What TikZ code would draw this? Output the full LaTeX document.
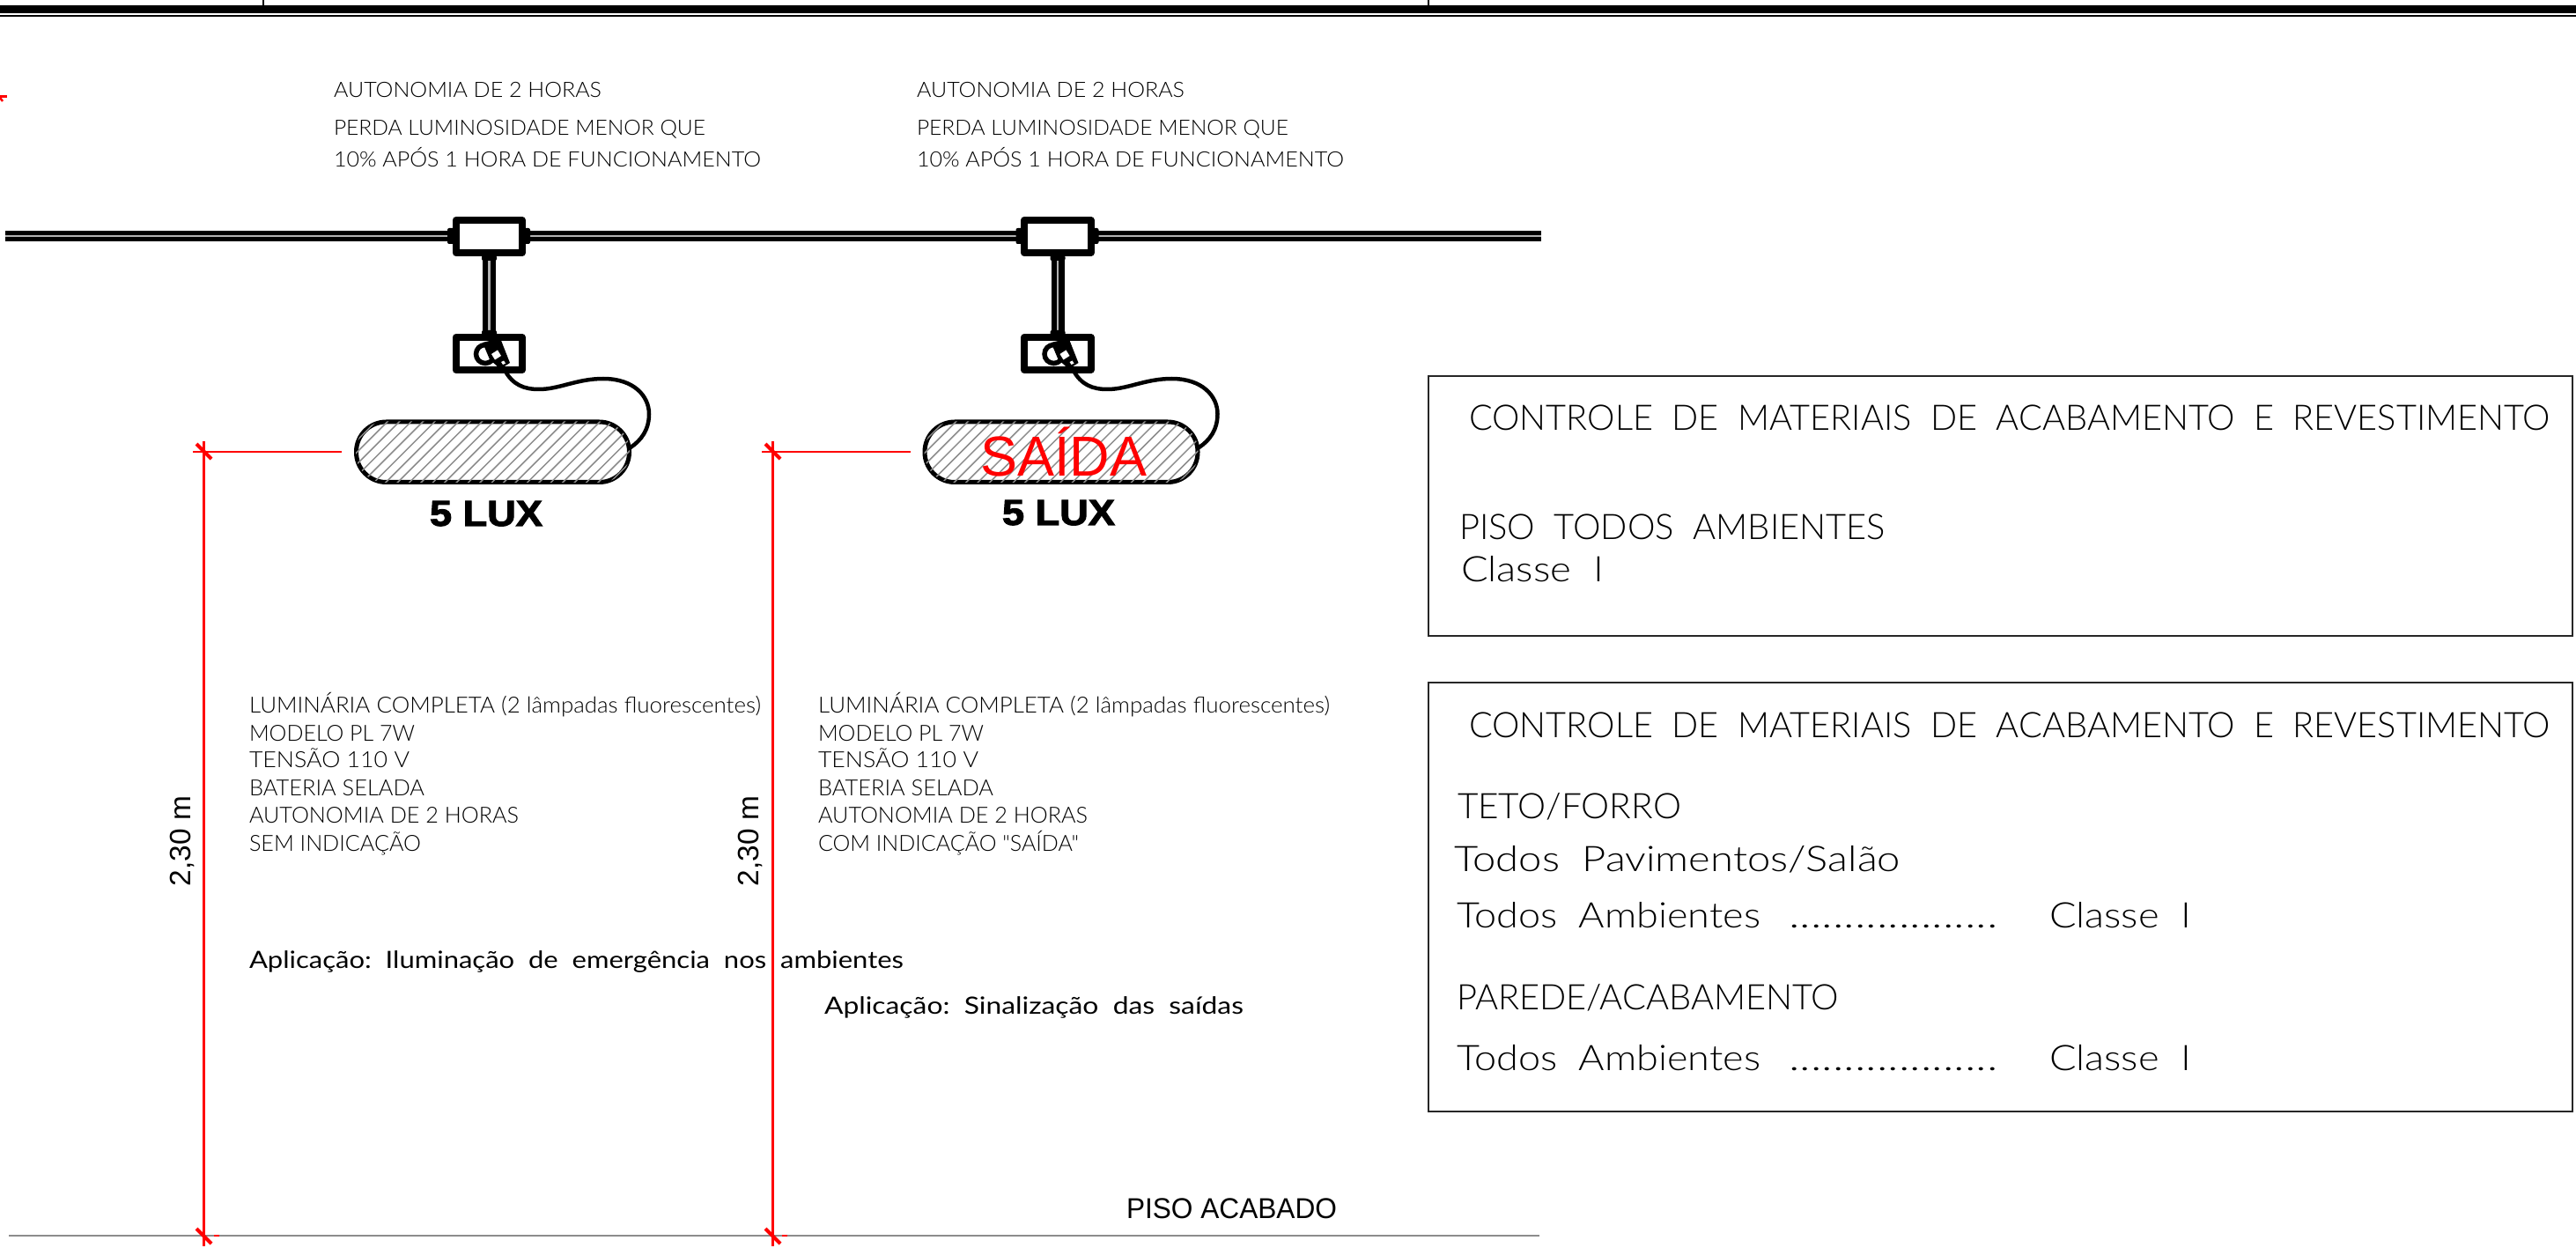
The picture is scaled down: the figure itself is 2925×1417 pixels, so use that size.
\documentclass[tikz,border=0pt]{standalone}
\usepackage{graphicx}
\usepackage{fontspec}
\setmainfont{Liberation Sans}
\newfontfamily\thinf{Lato Light}
\newfontfamily\regf{Lato}
\newfontfamily\heavyf[FakeBold=2.5]{Liberation Sans Bold}
\newdimen\pxu \pxu=0.5pt
% name, x, baseline y, width px, font size pt, text
\newcommand{\thintext}[6]{\node[txtnode] (#1) at (#2,#3) {\fontsize{#5}{#5}\thinf\resizebox{#4\pxu}{\height}{#6}};}
\newcommand{\regtext}[6]{\node[txtnode] (#1) at (#2,#3) {\fontsize{#5}{#5}\regf\resizebox{#4\pxu}{\height}{#6}};}
\newcommand{\sanstext}[6]{\node[txtnode] (#1) at (#2,#3) {\fontsize{#5}{#5}\selectfont\resizebox{#4\pxu}{\height}{#6}};}
\definecolor{cadred}{RGB}{255,0,0}
\definecolor{hatchgray}{RGB}{140,140,140}
\tikzset{
  txtnode/.style={anchor=base west,inner sep=0pt,outer sep=0pt,text=black},
  px/.style={line width=#1*0.5pt},
  dimline/.style={draw=cadred,line width=1.2pt},
  dimtick/.style={draw=cadred,line width=2pt},
  framebox/.style={draw=black!85,line width=1.2pt},
  heavy/.style={draw=black,line width=4pt,line join=round},
}
\begin{document}
\begin{tikzpicture}[x=0.5pt,y=-0.5pt]
\useasboundingbox (0,0) rectangle (2925,1417);
\fill[white] (0,0) rectangle (2925,1417);
% title block rule
\fill[black] (0,6.5) rectangle (2925,15);
\fill[black] (0,17) rectangle (2925,19);
\draw[black,line width=1pt] (298.5,0) -- (298.5,7);
\draw[black,line width=1pt] (1622,0) -- (1622,7);
% stray dimension fragment
\draw[cadred,px=2.5] (0,109.5) -- (7.5,109.5);
\draw[cadred,px=2.5] (0,111) -- (3,115);
% conduit
\draw[black,px=12.5] (6,268) -- (1750,268);
\draw[black!30,px=2.5] (6,268) -- (1750,268);
% upper notes
\foreach \dx/\n in {379/a,1041/b}{
  \thintext{au\n}{\dx}{111}{304}{12pt}{AUTONOMIA DE 2 HORAS}
  \thintext{pe\n}{\dx}{154}{422}{12pt}{PERDA LUMINOSIDADE MENOR QUE}
  \thintext{de\n}{\dx}{190}{485}{12pt}{10\% APÓS 1 HORA DE FUNCIONAMENTO}
}
% luminaires
\foreach \dx in {0,645.5}{
\begin{scope}[xshift=\dx*0.5pt]
  \draw[black,px=5,rounded corners=17pt] (404.5,479) rectangle (714.5,547.5);
  % hatch, over the inner edge of the outline
  \begin{scope}
    \clip[rounded corners=17pt] (404,478.5) rectangle (715,548);
    \foreach \i in {0,...,30}{
      \draw[hatchgray,px=1.5] (340+\i*13.4,552) -- ++(80,-80);
    }
  \end{scope}
  % drop conduit
  \draw[black,px=15] (555.5,286) -- (555.5,385);
  \draw[black!30,px=2.5] (555.5,294) -- (555.5,376);
  \fill[black,rounded corners=1pt] (547,290) rectangle (564,296);
  \fill[black,rounded corners=1pt] (547,375) rectangle (564,382);
  % junction box
  \fill[black,rounded corners=1pt] (508,259) rectangle (602,277);
  \fill[white] (517,250) rectangle (593,287);
  \draw[heavy] (517.5,250) rectangle (593,287);
  % lower box
  \fill[white] (517.5,383) rectangle (593,420);
  \draw[heavy] (517.5,383) rectangle (593,420);
  % lamp holder
  \draw[black,px=5.5] (551,402) circle[radius=10.5];
  \fill[black] (548,389) -- (568,384) -- (579,412) -- (568,419) -- (556,408) -- cycle;
  \fill[white] (558,402) -- (565,397.5) -- (569,404) -- (562,408.5) -- cycle;
  \fill[white] (569,411) -- (572,409.5) -- (574,412.5) -- (571,414) -- cycle;
  % cable
  \draw[black,px=4.5,line cap=round] (573,420) .. controls (582,437) and (595,442) .. (612,442)
     .. controls (635,442) and (655,430) .. (685,430)
     .. controls (720,430) and (737,450) .. (737,470)
     .. controls (737,488) and (728,500) .. (716,508);
\end{scope}
}
% 5 LUX labels
\node[txtnode] (luxa) at (488,597) {\fontsize{20.5pt}{20.5pt}\heavyf\resizebox{128\pxu}{\height}{5 LUX}};
\node[txtnode] (luxb) at (1138,596) {\fontsize{20.5pt}{20.5pt}\heavyf\resizebox{128\pxu}{\height}{5 LUX}};
% SAIDA
\node[txtnode,text=cadred] (saida) at (1113,541) {\fontsize{32pt}{32pt}\selectfont\resizebox{189\pxu}{\height}{SAÍDA}};
% dimension lines
\foreach \dx/\n in {0/a,646/b}{
\begin{scope}[xshift=\dx*0.5pt]
  \draw[dimline] (231.5,501) -- (231.5,1415);
  \draw[dimline] (219,513) -- (388,513);
  \draw[dimtick] (223,504) -- (240,521);
\end{scope}
}
% floor
\draw[black!45,line width=1.2pt] (10,1403) -- (1748,1403);
\draw[dimline] (243,1403) -- (249,1403);
\draw[dimline] (888,1403) -- (894,1403);
\draw[dimline] (231.5,1393) -- (231.5,1415);
\draw[dimline] (877.5,1393) -- (877.5,1415);
\draw[dimtick] (223,1395) -- (240,1412);
\draw[dimtick] (869,1395) -- (886,1412);
\node[txtnode,rotate=90] (cota) at (216,1006) {\fontsize{16.7pt}{16.7pt}\selectfont 2,30 m};
\node[txtnode,rotate=90] (cotb) at (861,1006) {\fontsize{16.7pt}{16.7pt}\selectfont 2,30 m};
\sanstext{piso}{1279}{1383}{239}{16.3pt}{PISO ACABADO}
% specification lists
\thintext{la}{283}{809}{581}{12.6pt}{LUMINÁRIA COMPLETA (2 lâmpadas fluorescentes)}
\thintext{lb}{283}{841}{188}{12.6pt}{MODELO PL 7W}
\thintext{lc}{283}{871}{182}{12.6pt}{TENSÃO 110 V}
\thintext{ld}{283}{903}{199}{12.6pt}{BATERIA SELADA}
\thintext{le}{283}{934}{306}{12.6pt}{AUTONOMIA DE 2 HORAS}
\thintext{lf}{283}{966}{195}{12.6pt}{SEM INDICAÇÃO}
\thintext{ra}{929}{809}{581}{12.6pt}{LUMINÁRIA COMPLETA (2 lâmpadas fluorescentes)}
\thintext{rb}{929}{841}{188}{12.6pt}{MODELO PL 7W}
\thintext{rc}{929}{871}{182}{12.6pt}{TENSÃO 110 V}
\thintext{rd}{929}{903}{199}{12.6pt}{BATERIA SELADA}
\thintext{re}{929}{934}{306}{12.6pt}{AUTONOMIA DE 2 HORAS}
\thintext{rf}{929}{966}{296}{12.6pt}{COM INDICAÇÃO "SAÍDA"}
\regtext{apa}{283}{1099}{743}{13.5pt}{Aplicação:\ \ Iluminação\ \ de\ \ emergência\ \ nos\ \ ambientes}
\regtext{apb}{936}{1151}{476}{13.5pt}{Aplicação:\ \ Sinalização\ \ das\ \ saídas}
% material boxes
\draw[framebox] (1622,427) rectangle (2921,722);
\draw[framebox] (1622,775) rectangle (2921,1262);
\thintext{ca}{1668}{489}{1228}{20pt}{CONTROLE\ \ DE\ \ MATERIAIS\ \ DE\ \ ACABAMENTO\ \ E\ \ REVESTIMENTO}
\thintext{cb}{1657}{613}{484}{20pt}{PISO\ \ TODOS\ \ AMBIENTES}
\thintext{cc}{1659}{661}{162}{20pt}{Classe\ \ I}
\thintext{da}{1668}{837}{1228}{20pt}{CONTROLE\ \ DE\ \ MATERIAIS\ \ DE\ \ ACABAMENTO\ \ E\ \ REVESTIMENTO}
\thintext{db}{1655}{929}{254}{20pt}{TETO/FORRO}
\thintext{dc}{1651}{989}{507}{20pt}{Todos\ \ Pavimentos/Salão}
\thintext{dd}{1654}{1053}{345}{20pt}{Todos\ \ Ambientes}
\thintext{de}{2031}{1053}{237}{20pt}{...................}
\thintext{df}{2327}{1053}{161}{20pt}{Classe\ \ I}
\thintext{dg}{1654}{1146}{434}{20pt}{PAREDE/ACABAMENTO}
\thintext{dh}{1654}{1215}{345}{20pt}{Todos\ \ Ambientes}
\thintext{di}{2031}{1215}{237}{20pt}{...................}
\thintext{dj}{2327}{1215}{161}{20pt}{Classe\ \ I}
\end{tikzpicture}
\end{document}
